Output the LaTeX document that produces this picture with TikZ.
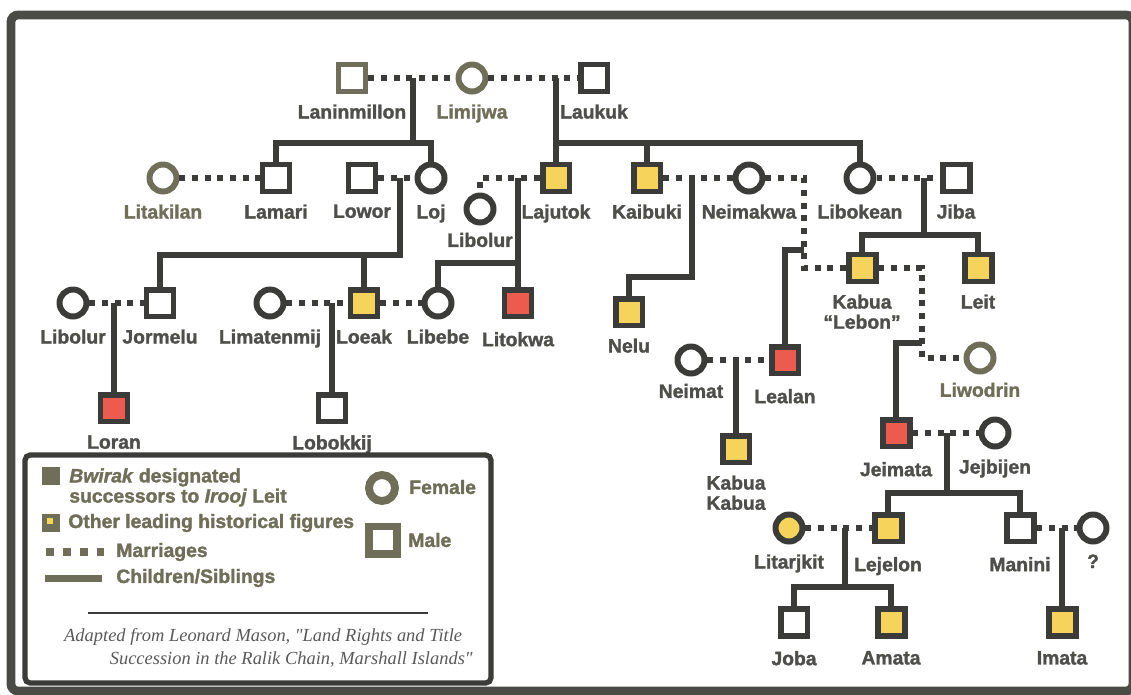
\documentclass[tikz,border=0pt]{standalone}
\usepackage{fontspec}
\setmainfont{Liberation Sans}[BoldFeatures={FakeBold=1.6},BoldItalicFeatures={FakeBold=1.6}]
\newfontfamily\citefont{Liberation Serif}
\usetikzlibrary{positioning}
\definecolor{dkline}{HTML}{3b3b39}
\definecolor{olivegrey}{HTML}{6f6e58}
\definecolor{ldyellow}{HTML}{f6d45c}
\definecolor{heirred}{HTML}{ec5b4d}
\definecolor{lbltext}{HTML}{4e4e4b}
\definecolor{framegrey}{HTML}{4a4a47}

\tikzset{
  person/.style={draw=dkline, line width=3.4pt, fill=white, minimum size=0.54cm, inner sep=0pt},
  male/.style={person, rectangle},
  female/.style={person, circle},
  lead/.style={fill=ldyellow},
  heir/.style={fill=heirred},
  old/.style={draw=olivegrey},
  pname/.style={font=\fontsize{11}{11.5}\selectfont\bfseries, text=lbltext, inner sep=0pt, align=center},
  keytext/.style={font=\fontsize{11}{11.5}\selectfont\bfseries, text=olivegrey, inner sep=0pt},
  marr/.style={draw=dkline, line width=3.1pt, dash pattern=on 3.4pt off 3.8pt},
  kin/.style={draw=dkline, line width=3.1pt},
}

\begin{document}
\begin{tikzpicture}[x=0.02cm,y=-0.02cm]

    \useasboundingbox (0,0) rectangle (1131,694);
    \draw[framegrey, line width=5pt, rounded corners=4pt] (11,15) rectangle (1133,691);

    % first generation
    \node[male,old] (lanin) at (352,78) {};
    \node[female,old] (limij) at (472,78) {};
    \node[male] (laukuk) at (594,78) {};

    % second generation
    \node[female,old] (litak) at (163,178) {};
    \node[male] (lamari) at (276,178) {};
    \node[male] (lowor) at (362,178) {};
    \node[female] (loj) at (431,178) {};
    \node[female] (libolurB) at (480,209) {};
    \node[male,lead] (lajutok) at (556,178) {};
    \node[male,lead] (kaibuki) at (647,178) {};
    \node[female] (neimakwa) at (749,178) {};
    \node[female] (libokean) at (860,178) {};
    \node[male] (jiba) at (956,178) {};

    % third generation
    \node[female] (libolurA) at (73,303) {};
    \node[male] (jormelu) at (160,303) {};
    \node[female] (limaten) at (270,303) {};
    \node[male,lead] (loeak) at (364,303) {};
    \node[female] (libebe) at (438,303) {};
    \node[male,heir] (litokwa) at (518,303) {};
    \node[male,lead] (nelu) at (629,312) {};
    \node[male,lead] (kabuaL) at (862,268) {};
    \node[male,lead] (leit) at (978,268) {};

    % later generations
    \node[male,heir] (loran) at (114,408) {};
    \node[male] (lobok) at (332,408) {};
    \node[female] (neimat) at (691,360) {};
    \node[male,heir] (lealan) at (785,360) {};
    \node[female,old] (liwodrin) at (980,358) {};
    \node[male,lead] (kabuaK) at (736,449) {};
    \node[male,heir] (jeimata) at (896,433) {};
    \node[female] (jejbijen) at (995,433) {};
    \node[female,lead] (litarj) at (789,528) {};
    \node[male,lead] (lejelon) at (888,528) {};
    \node[male] (manini) at (1020,528) {};
    \node[female] (unk) at (1093,528) {};
    \node[male] (joba) at (794,622) {};
    \node[male,lead] (amata) at (891,622) {};
    \node[male,lead] (imata) at (1062,622) {};

    % names
    \node[pname, below=5.5pt of lanin] (lanin-n) {Laninmillon};
    \node[pname, text=olivegrey, below=5.5pt of limij] (limij-n) {Limijwa};
    \node[pname, below=5.5pt of laukuk] (laukuk-n) {Laukuk};
    \node[pname, text=olivegrey, below=5.5pt of litak] (litak-n) {Litakilan};
    \node[pname, below=5.5pt of lamari] (lamari-n) {Lamari};
    \node[pname, below=5.5pt of lowor] (lowor-n) {Lowor};
    \node[pname, below=5.5pt of loj] (loj-n) {Loj};
    \node[pname, below=4pt of libolurB] (libolurB-n) {Libolur};
    \node[pname, below=5.5pt of lajutok] (lajutok-n) {Lajutok};
    \node[pname, below=5.5pt of kaibuki] (kaibuki-n) {Kaibuki};
    \node[pname, below=5.5pt of neimakwa] (neimakwa-n) {Neimakwa};
    \node[pname, below=5.5pt of libokean] (libokean-n) {Libokean};
    \node[pname, below=5.5pt of jiba] (jiba-n) {Jiba};
    \node[pname, below=5.5pt of libolurA] (libolurA-n) {Libolur};
    \node[pname, below=5.5pt of jormelu] (jormelu-n) {Jormelu};
    \node[pname, below=5.5pt of limaten] (limaten-n) {Limatenmij};
    \node[pname, below=5.5pt of loeak] (loeak-n) {Loeak};
    \node[pname, below=5.5pt of libebe] (libebe-n) {Libebe};
    \node[pname, below=7pt of litokwa] (litokwa-n) {Litokwa};
    \node[pname, below=5.5pt of nelu] (nelu-n) {Nelu};
    \node[pname, below=5.5pt of kabuaL] (kabuaL-n) {Kabua\\“Lebon”};
    \node[pname, below=5.5pt of leit] (leit-n) {Leit};
    \node[pname, below=6pt of loran] (loran-n) {Loran};
    \node[pname, below=6pt of lobok] (lobok-n) {Lobokkij};
    \node[pname, below=4pt of neimat] (neimat-n) {Neimat};
    \node[pname, below=7pt of lealan] (lealan-n) {Lealan};
    \node[pname, text=olivegrey, below=4.5pt of liwodrin] (liwodrin-n) {Liwodrin};
    \node[pname, below=5.5pt of kabuaK] (kabuaK-n) {Kabua\\Kabua};
    \node[pname, below=7pt of jeimata] (jeimata-n) {Jeimata};
    \node[pname, below=5.5pt of jejbijen] (jejbijen-n) {Jejbijen};
    \node[pname, below=5.5pt of litarj] (litarj-n) {Litarjkit};
    \node[pname, below=7pt of lejelon] (lejelon-n) {Lejelon};
    \node[pname, below=7pt of manini] (manini-n) {Manini};
    \node[pname, below=5.5pt of unk] (unk-n) {?};
    \node[pname, below=7pt of joba] (joba-n) {Joba};
    \node[pname, below=7pt of amata] (amata-n) {Amata};
    \node[pname, below=7pt of imata] (imata-n) {Imata};

    % junctions
    \coordinate (j1) at (413,78);
    \coordinate (s1) at (413,143);
    \coordinate (j2) at (556,78);
    \coordinate (s2) at (556,143);
    \coordinate (j4) at (400,178);
    \coordinate (s4) at (400,255);
    \coordinate (s4b) at (364,255);
    \coordinate (j5) at (518,178);
    \coordinate (s5) at (518,263);
    \coordinate (j6) at (692,178);
    \coordinate (s6) at (692,277);
    \coordinate (t7) at (804,268);
    \coordinate (j7) at (804,250);
    \coordinate (j8) at (924,178);
    \coordinate (s8) at (924,235);
    \coordinate (t9) at (922,358);
    \coordinate (j9) at (922,343);
    \coordinate (j10) at (114,303);
    \coordinate (j11) at (332,303);
    \coordinate (j13) at (736,360);
    \coordinate (j14) at (947,433);
    \coordinate (s14) at (947,493);
    \coordinate (j15) at (845,528);
    \coordinate (s15) at (845,587);
    \coordinate (j16) at (1062,528);

    % marriages
    \draw[marr] (lanin) -- (limij);
    \draw[marr] (limij) -- (laukuk);
    \draw[marr] (litak) -- (lamari);
    \draw[marr] (lowor) -- (loj);
    \draw[marr] (lajutok) -| (libolurB);
    \draw[marr] (kaibuki) -- (neimakwa);
    \draw[marr] (neimakwa) -| (t7) -- (kabuaL);
    \draw[marr] (libokean) -- (jiba);
    \draw[marr] (kabuaL) -| (t9) -- (liwodrin);
    \draw[marr] (libolurA) -- (jormelu);
    \draw[marr] (limaten) -- (loeak);
    \draw[marr] (loeak) -- (libebe);
    \draw[marr] (neimat) -- (lealan);
    \draw[marr] (jeimata) -- (jejbijen);
    \draw[marr] (litarj) -- (lejelon);
    \draw[marr] (manini) -- (unk);

    % children
    \draw[kin] (j1) -- (s1);
    \draw[kin] (lamari) |- (s1) -| (loj);
    \draw[kin] (j2) -- (lajutok);
    \draw[kin] (s2) -| (kaibuki);
    \draw[kin] (s2) -| (libokean);
    \draw[kin] (j4) -- (s4) -| (jormelu);
    \draw[kin] (s4b) -- (loeak);
    \draw[kin] (j5) -- (litokwa);
    \draw[kin] (s5) -| (libebe);
    \draw[kin] (j6) -- (s6) -| (nelu);
    \draw[kin] (j7) -| (lealan);
    \draw[kin] (j8) -- (s8);
    \draw[kin] (kabuaL) |- (s8) -| (leit);
    \draw[kin] (j9) -| (jeimata);
    \draw[kin] (j10) -- (loran);
    \draw[kin] (j11) -- (lobok);
    \draw[kin] (j13) -- (kabuaK);
    \draw[kin] (j14) -- (s14);
    \draw[kin] (lejelon) |- (s14) -| (manini);
    \draw[kin] (j15) -- (s15);
    \draw[kin] (joba) |- (s15) -| (amata);
    \draw[kin] (j16) -- (imata);

    % legend
    \draw[dkline, line width=3pt, rounded corners=3pt] (25,455) rectangle (491,683);
    \node[fill=olivegrey, inner sep=0pt, minimum size=0.36cm] (keyheir) at (51,476) {};
    \node[keytext, anchor=north west, align=left] (keyheir-t) at (69,468) {\textit{Bwirak} designated\\successors to \textit{Irooj} Leit};
    \node[fill=olivegrey, inner sep=0pt, minimum size=0.36cm] (keylead) at (51,523) {};
    \node[fill=ldyellow, inner sep=0pt, minimum size=0.13cm] (keylead-in) at (50,521) {};
    \node[keytext, anchor=west] (keylead-t) at (68,523) {Other leading historical figures};
    \coordinate (keymar-a) at (46,552);
    \coordinate (keymar-b) at (104,552);
    \draw[olivegrey, line width=4.5pt, dash pattern=on 4.5pt off 5.1pt] (keymar-a) -- (keymar-b);
    \node[keytext, anchor=west] (keymar-t) at (116,552) {Marriages};
    \coordinate (keykin-a) at (45,578);
    \coordinate (keykin-b) at (102,578);
    \draw[olivegrey, line width=4pt] (keykin-a) -- (keykin-b);
    \node[keytext, anchor=west] (keykin-t) at (116,578) {Children/Siblings};
    \node[female, draw=olivegrey, line width=4.5pt, minimum size=0.52cm] (keyfem) at (382,488) {};
    \node[keytext, anchor=west] (keyfem-t) at (409,487) {Female};
    \node[male, draw=olivegrey, line width=4pt, minimum size=0.56cm] (keymale) at (383,540) {};
    \node[keytext, anchor=west] (keymale-t) at (408,540) {Male};
    \draw[dkline, line width=1pt] (88,613) -- (428,613);
    \node[font=\citefont\itshape\fontsize{10.5}{13}\selectfont, text=black!65, inner sep=0pt, anchor=north east, align=right] (src) at (473,628)
        {Adapted from Leonard Mason, "Land Rights and Title\hspace*{6pt}\\Succession in the Ralik Chain, Marshall Islands"};

\end{tikzpicture}
\end{document}
